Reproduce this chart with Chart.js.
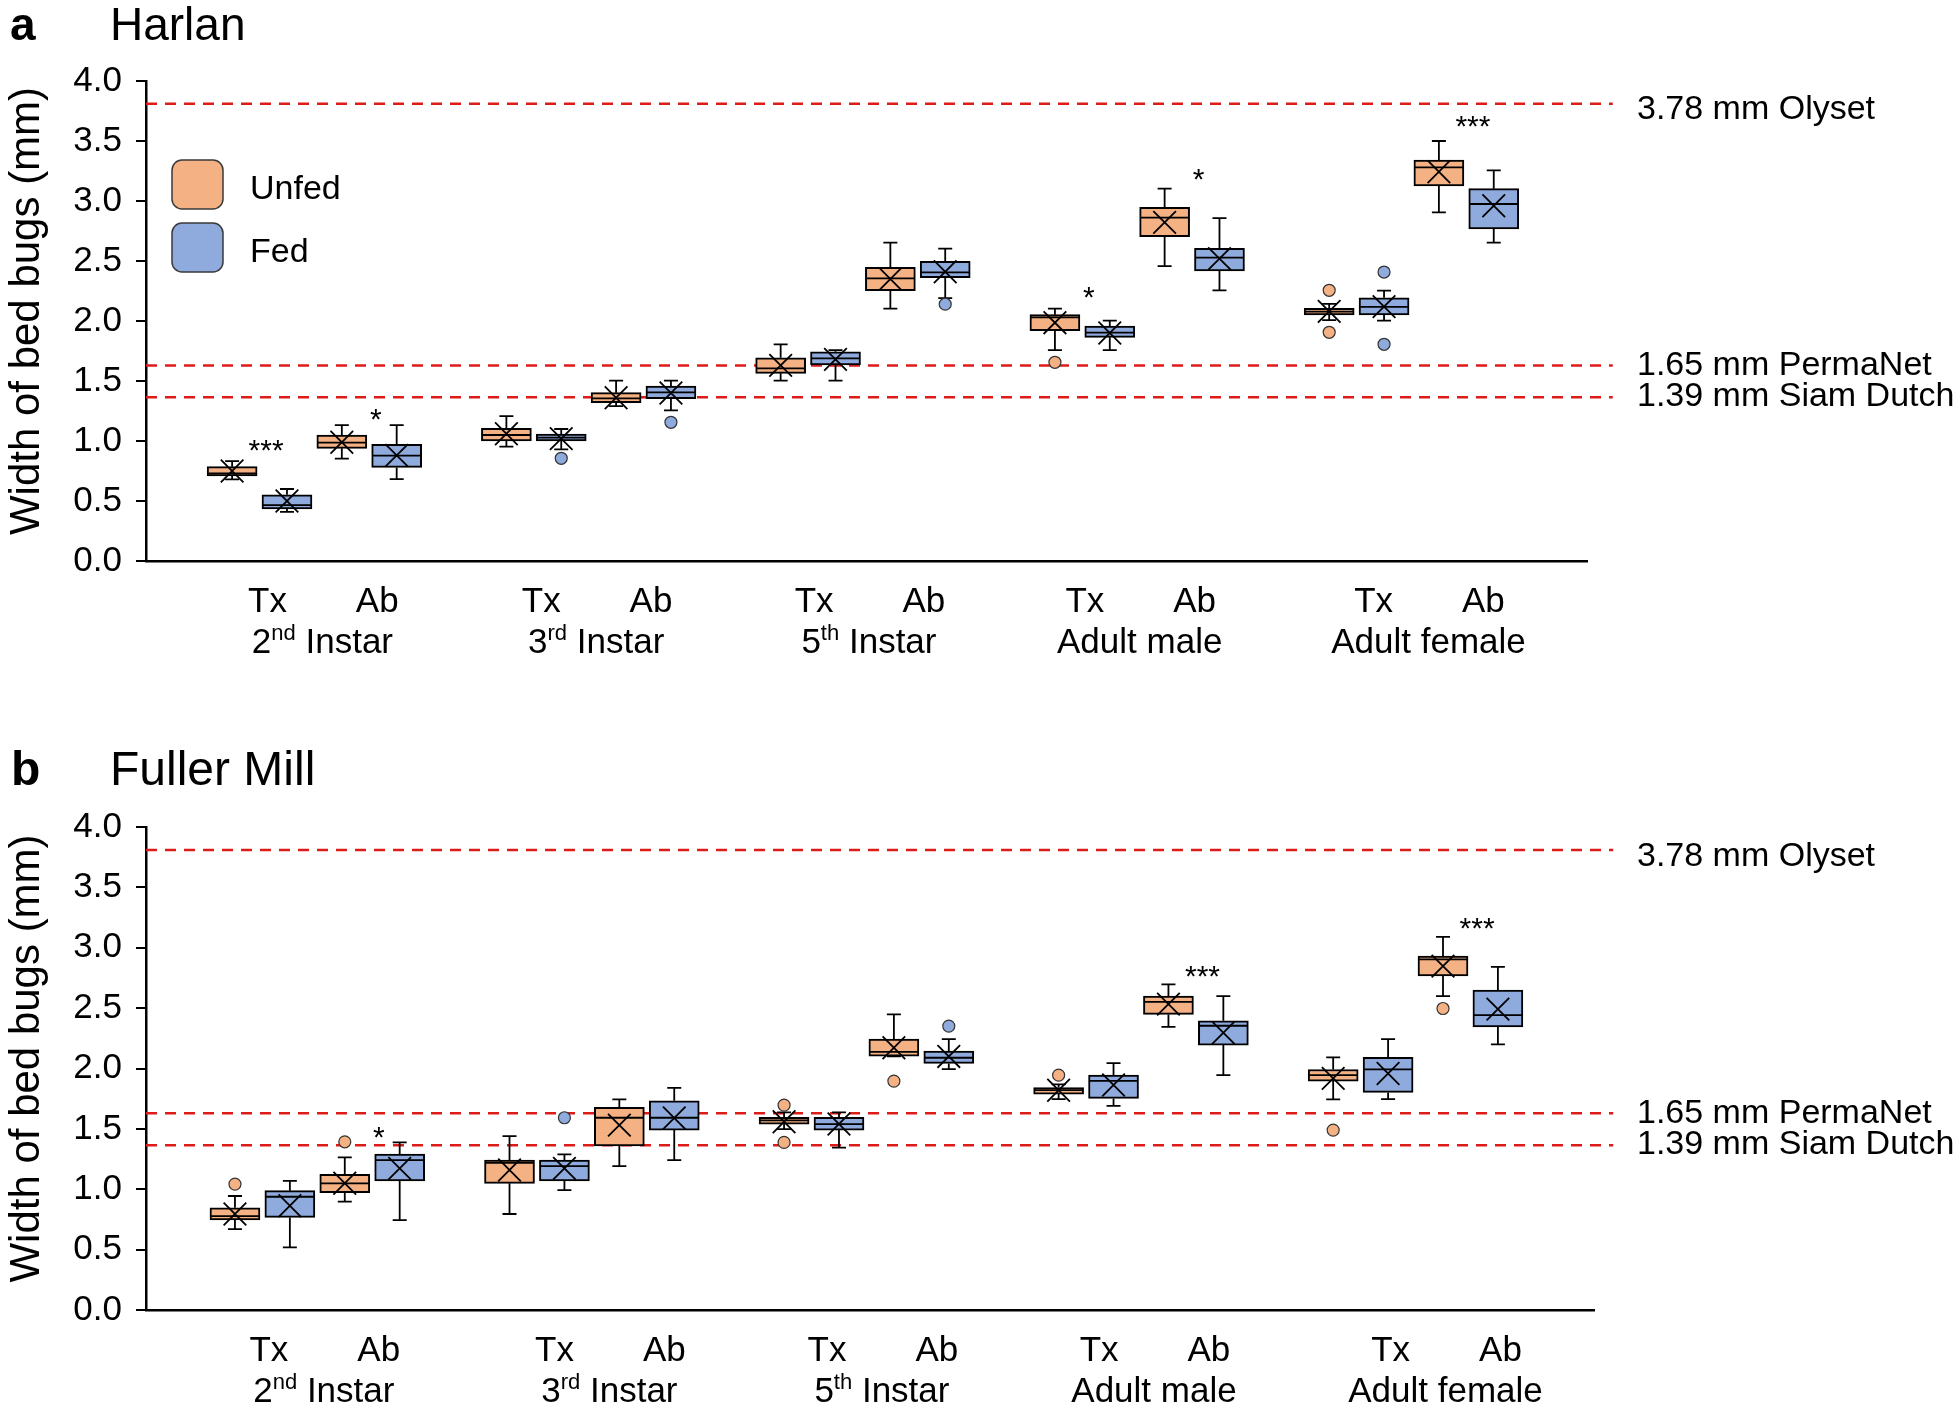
<!DOCTYPE html>
<html>
<head>
<meta charset="utf-8">
<script src="https://cdn.jsdelivr.net/npm/chart.js@4.4.0/dist/chart.umd.min.js"></script>
<style>
  html, body { margin: 0; padding: 0; background: #fff; }
  body { width: 1960px; height: 1409px; position: relative; overflow: hidden; }
  canvas { position: absolute; left: 0; }
  #harlan { top: 0; }
  #fuller { top: 740px; }
</style>
</head>
<body>
<canvas id="harlan" width="1960" height="700"></canvas>
<canvas id="fuller" width="1960" height="669"></canvas>
<script>
// stage labels: [number, superscript, rest]
const stageLabels = [["2", "nd", " Instar"], ["3", "rd", " Instar"], ["5", "th", " Instar"], ["Adult male", "", ""], ["Adult female", "", ""]];
const popLabels = ["Tx", "Ab"];
const yTicks = [0, 0.5, 1, 1.5, 2, 2.5, 3, 3.5, 4];

// mesh sizes: where the dashed lines are drawn, and the labelled values
const netLineY = [3.81, 1.63, 1.365];
const netValues = [3.78, 1.65, 1.39];
const netLabels = ["3.78 mm Olyset", "1.65 mm PermaNet", "1.39 mm Siam Dutch"];

// rows: [min, q1, median, q3, max, mean], order 2nd Tx, 2nd Ab, 3rd Tx, 3rd Ab, ...
const harlanUnfed = [
  [0.68, 0.708, 0.73, 0.786, 0.833, 0.75],
  [0.853, 0.939, 0.986, 1.05, 1.133, 0.99],
  [0.953, 1.0, 1.05, 1.106, 1.208, 1.06],
  [1.29, 1.319, 1.356, 1.403, 1.503, 1.36],
  [1.503, 1.564, 1.606, 1.694, 1.806, 1.63],
  [2.103, 2.253, 2.356, 2.447, 2.653, 2.35],
  [1.758, 1.919, 2.031, 2.053, 2.103, 1.986],
  [2.458, 2.703, 2.861, 2.947, 3.103, 2.822],
  [2.008, 2.05, 2.078, 2.106, 2.142, 2.08],
  [2.906, 3.125, 3.281, 3.342, 3.5, 3.244]
];
const harlanFed = [
  [0.41, 0.433, 0.466, 0.552, 0.60, 0.50],
  [0.683, 0.78, 0.878, 0.972, 1.133, 0.88],
  [0.93, 1.0, 1.028, 1.058, 1.10, 1.02],
  [1.256, 1.353, 1.406, 1.458, 1.503, 1.40],
  [1.503, 1.633, 1.689, 1.744, 1.758, 1.68],
  [2.19, 2.361, 2.406, 2.497, 2.603, 2.41],
  [1.758, 1.864, 1.903, 1.958, 2.003, 1.90],
  [2.256, 2.417, 2.528, 2.606, 2.858, 2.52],
  [2.003, 2.05, 2.117, 2.194, 2.253, 2.12],
  [2.653, 2.767, 2.975, 3.103, 3.256, 2.96]
];
// outliers: [box index, value]
const harlanUnfedOut = [[6, 1.656], [8, 2.256], [8, 1.906]];
const harlanFedOut = [[2, 0.856], [3, 1.156], [5, 2.14], [8, 2.408], [8, 1.806]];
// significance: [pair index, text, y]
const harlanSig = [[0, "***", 0.98], [1, "*", 1.24], [6, "*", 2.26], [7, "*", 3.24], [9, "***", 3.68]];

const fullerUnfed = [
  [0.67, 0.745, 0.778, 0.847, 0.944, 0.795],
  [0.897, 0.971, 1.049, 1.123, 1.264, 1.05],
  [0.795, 1.049, 1.219, 1.242, 1.44, 1.159],
  [1.192, 1.358, 1.592, 1.678, 1.744, 1.531],
  [1.498, 1.54, 1.57, 1.595, 1.637, 1.559],
  [2.10, 2.103, 2.138, 2.243, 2.448, 2.172],
  [1.747, 1.788, 1.821, 1.843, 1.868, 1.82],
  [2.345, 2.448, 2.552, 2.599, 2.696, 2.533],
  [1.744, 1.896, 1.945, 1.992, 2.092, 1.918],
  [2.599, 2.767, 2.903, 2.93, 3.09, 2.848]
];
const fullerFed = [
  [0.519, 0.767, 0.938, 0.988, 1.07, 0.863],
  [0.745, 1.07, 1.242, 1.291, 1.388, 1.173],
  [0.993, 1.068, 1.192, 1.242, 1.289, 1.173],
  [1.242, 1.49, 1.592, 1.733, 1.84, 1.59],
  [1.344, 1.49, 1.54, 1.595, 1.637, 1.54],
  [1.995, 2.042, 2.089, 2.144, 2.243, 2.10],
  [1.691, 1.752, 1.898, 1.945, 2.045, 1.863],
  [1.945, 2.194, 2.354, 2.395, 2.599, 2.296],
  [1.747, 1.802, 1.992, 2.092, 2.243, 1.959],
  [2.199, 2.345, 2.442, 2.649, 2.842, 2.492]
];
const fullerUnfedOut = [[0, 1.043], [1, 1.393], [4, 1.697], [4, 1.388], [5, 1.896], [6, 1.945], [8, 1.49], [9, 2.497]];
const fullerFedOut = [[2, 1.592], [5, 2.351]];
const fullerSig = [[1, "*", 1.49], [7, "***", 2.82], [9, "***", 3.22]];

const ORANGE = "#F4B183";
const BLUE = "#8FAADC";
const RED = "#DD1C1A";
const FONT = "'Liberation Sans', Arial, sans-serif";

Chart.defaults.font.family = FONT;
Chart.defaults.color = "#000";

// box i -> x slot; s = 0 unfed, 1 fed
function slotX(i, s) {
  return 5 * Math.floor(i / 2) + 2 * (i % 2) + s;
}

function boxSet(rows, label, color, s) {
  return {
    type: "bar", label: label, order: 3,
    data: rows.map((r, i) => ({ x: slotX(i, s), y: [r[1], r[3]] })),
    backgroundColor: color, borderColor: "#000", borderWidth: 2, borderSkipped: false,
    barThickness: 50, grouped: false,
    stats: rows
  };
}

function meanSet(rows, s) {
  return {
    type: "scatter", order: 0,
    data: rows.map((r, i) => ({ x: slotX(i, s), y: r[5] })),
    pointStyle: "crossRot", pointRadius: 16, borderColor: "#000", borderWidth: 1.8
  };
}

function outSet(outs, color, s) {
  return {
    type: "scatter", order: 1,
    data: outs.map(o => ({ x: slotX(o[0], s), y: o[1] })),
    pointStyle: "circle", pointRadius: 6, backgroundColor: color, borderColor: "#333", borderWidth: 1.2
  };
}

const boxParts = {
  id: "boxParts",
  afterDatasetDraw(chart, args) {
    const ds = chart.data.datasets[args.index];
    if (!ds.stats) return;
    const ctx = chart.ctx;
    const y = chart.scales.y;
    ctx.save();
    ctx.strokeStyle = "#000";
    ctx.lineWidth = 1.8;
    ds.stats.forEach((r, i) => {
      const bar = args.meta.data[i];
      const px = bar.x;
      const half = bar.width / 2;
      ctx.beginPath();
      // whiskers
      if (r[0] < r[1]) {
        ctx.moveTo(px, y.getPixelForValue(r[1]));
        ctx.lineTo(px, y.getPixelForValue(r[0]));
        ctx.moveTo(px - 7, y.getPixelForValue(r[0]));
        ctx.lineTo(px + 7, y.getPixelForValue(r[0]));
      }
      if (r[4] > r[3]) {
        ctx.moveTo(px, y.getPixelForValue(r[3]));
        ctx.lineTo(px, y.getPixelForValue(r[4]));
        ctx.moveTo(px - 7, y.getPixelForValue(r[4]));
        ctx.lineTo(px + 7, y.getPixelForValue(r[4]));
      }
      // median
      ctx.moveTo(px - half + 1, y.getPixelForValue(r[2]));
      ctx.lineTo(px + half - 1, y.getPixelForValue(r[2]));
      ctx.stroke();
    });
    ctx.restore();
  }
};

const panelText = {
  id: "panelText",
  afterDraw(chart, args, opts) {
    const ctx = chart.ctx;
    const x = chart.scales.x, y = chart.scales.y;
    const area = chart.chartArea;
    ctx.save();
    ctx.fillStyle = "#000";
    ctx.textAlign = "left";
    ctx.textBaseline = "alphabetic";

    // panel title
    ctx.font = "bold " + opts.titleSize + "px " + FONT;
    ctx.fillText(opts.letter, opts.letterX, opts.titleY);
    ctx.font = opts.titleSize + "px " + FONT;
    ctx.fillText(opts.title, opts.titleX, opts.titleY);

    // y axis title
    ctx.save();
    ctx.translate(27, (area.top + area.bottom) / 2 - 10);
    ctx.rotate(-Math.PI / 2);
    ctx.font = "42px " + FONT;
    ctx.textAlign = "center";
    ctx.textBaseline = "middle";
    ctx.fillText("Width of bed bugs (mm)", 0, 0);
    ctx.restore();

    // x labels
    const big = "35px " + FONT, small = "22px " + FONT;
    stageLabels.forEach((parts, g) => {
      const shift = opts.labelShift[g];
      popLabels.forEach((p, k) => {
        ctx.font = big;
        ctx.textAlign = "center";
        ctx.fillText(p, x.getPixelForValue(5 * g + 2 * k + 0.5) + shift, area.bottom + 51);
      });
      const cx = x.getPixelForValue(5 * g + 1.5) + shift;
      ctx.font = big; const wa = ctx.measureText(parts[0]).width; const wb = ctx.measureText(parts[2]).width;
      ctx.font = small; const ws = ctx.measureText(parts[1]).width;
      let lx = cx - (wa + ws + wb) / 2;
      const by = area.bottom + 92;
      ctx.textAlign = "left";
      ctx.font = big; ctx.fillText(parts[0], lx, by); lx += wa;
      ctx.font = small; ctx.fillText(parts[1], lx, by - 13); lx += ws;
      ctx.font = big; ctx.fillText(parts[2], lx, by);
    });

    // mesh labels
    ctx.font = "34px " + FONT;
    ctx.textAlign = "left";
    netValues.forEach((v, i) => {
      ctx.fillText(netLabels[i], opts.netLabelX, y.getPixelForValue(v) + 12);
    });

    // significance stars
    ctx.font = "30px " + FONT;
    ctx.textAlign = "center";
    opts.sig.forEach(s => {
      const g = Math.floor(s[0] / 2), k = s[0] % 2;
      ctx.fillText(s[1], x.getPixelForValue(5 * g + 2 * k + 0.5 + 0.12), y.getPixelForValue(s[2]) + 17);
    });

    // legend
    if (opts.legend) {
      const items = [["Unfed", ORANGE], ["Fed", BLUE]];
      items.forEach((it, i) => {
        const lx = area.left + 26, ly = area.top + 79 + i * 63;
        ctx.beginPath();
        ctx.roundRect(lx, ly, 51, 49, 10);
        ctx.fillStyle = it[1];
        ctx.fill();
        ctx.lineWidth = 1.5;
        ctx.strokeStyle = "#3a3a3a";
        ctx.stroke();
        ctx.fillStyle = "#000";
        ctx.font = "34px " + FONT;
        ctx.textAlign = "left";
        ctx.fillText(it[0], lx + 78, ly + 27 + 12);
      });
    }
    ctx.restore();
  }
};

function makePanel(id, unfed, fed, unfedOut, fedOut, cfg) {
  const lineSets = netLineY.map(v => ({
    type: "line", order: 5,
    data: [{ x: cfg.xMin, y: v }, { x: cfg.lineEnd, y: v }],
    borderColor: RED, borderWidth: 2.5, borderDash: [11, 8],
    pointRadius: 0, clip: false, showLine: true
  }));
  return new Chart(document.getElementById(id), {
    type: "bar",
    data: {
      datasets: [
        ...lineSets,
        boxSet(unfed, "Unfed", ORANGE, 0),
        boxSet(fed, "Fed", BLUE, 1),
        outSet(unfedOut, ORANGE, 0),
        outSet(fedOut, BLUE, 1),
        meanSet(unfed, 0),
        meanSet(fed, 1)
      ]
    },
    options: {
      responsive: false,
      animation: false,
      events: [],
      layout: { padding: { left: 0, right: cfg.padRight, top: cfg.padTop, bottom: cfg.padBottom } },
      scales: {
        x: {
          type: "linear", min: cfg.xMin, max: cfg.xMax, offset: false,
          ticks: { display: false },
          grid: { display: false },
          border: { display: true, color: "#000", width: 2.5 },
          afterFit: (s) => { s.height = 0; }
        },
        y: {
          min: 0, max: 4,
          afterBuildTicks: (s) => { s.ticks = yTicks.map(v => ({ value: v })); },
          ticks: { font: { size: 35 }, color: "#000", padding: 14, callback: (v) => v.toFixed(1) },
          grid: { drawOnChartArea: false, color: "#000", lineWidth: 2, tickLength: 10 },
          border: { display: true, color: "#000", width: 2.5 },
          title: { display: false },
          afterFit: (s) => { s.width = 146; }
        }
      },
      plugins: {
        legend: { display: false },
        tooltip: { enabled: false },
        panelText: {
          letter: cfg.letter, title: cfg.title, letterX: cfg.letterX, titleX: cfg.titleX, titleY: cfg.titleY,
          titleSize: cfg.titleSize, sig: cfg.sig, legend: cfg.legend, labelShift: cfg.labelShift,
          netLabelX: 1637
        }
      }
    },
    plugins: [boxParts, panelText]
  });
}

makePanel("harlan", harlanUnfed, harlanFed, harlanUnfedOut, harlanFedOut, {
  xMin: -1.57, xMax: 24.70, lineEnd: 25.17, padRight: 373, padTop: 81, padBottom: 139,
  letter: "a", title: "Harlan", letterX: 10, titleX: 110, titleY: 40, titleSize: 46,
  labelShift: [8, 7.5, 6, 2.5, 17],
  sig: harlanSig, legend: true
});

makePanel("fuller", fullerUnfed, fullerFed, fullerUnfedOut, fullerFedOut, {
  xMin: -1.62, xMax: 24.75, lineEnd: 25.10, padRight: 366, padTop: 87, padBottom: 99,
  letter: "b", title: "Fuller Mill", letterX: 11, titleX: 110, titleY: 45, titleSize: 48,
  labelShift: [6.5, 17.5, 15.5, 13, 30],
  sig: fullerSig, legend: false
});
</script>
</body>
</html>
